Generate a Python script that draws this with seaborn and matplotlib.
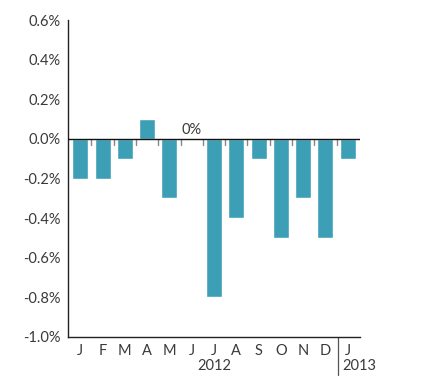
import pandas as pd
import matplotlib.pyplot as plt
import seaborn as sns

# monthly change, Jan 2012 - Jan 2013
months = ['J', 'F', 'M', 'A', 'M', 'J', 'J', 'A', 'S', 'O', 'N', 'D', 'J']
values = [-0.2, -0.2, -0.1, 0.1, -0.3, 0.0, -0.8, -0.4, -0.1, -0.5, -0.3, -0.5, -0.1]
yticks = [0.6, 0.4, 0.2, 0.0, -0.2, -0.4, -0.6, -0.8, -1.0]
years = ['2012', '2013']

BAR = '#3d9fb6'
TXT = '#3a3a3a'
FS = 10.5


def main():
    sns.set_style('white')
    plt.rcParams['font.family'] = ['Lato', 'DejaVu Sans']

    df = pd.DataFrame({'pos': [str(i) for i in range(len(values))], 'value': values})

    fig = plt.figure(figsize=(4.42, 3.85), dpi=100)
    ax = fig.add_axes([0.1538, 0.1247, 0.6606, 0.823])

    sns.barplot(data=df, x='pos', y='value', color=BAR, saturation=1, width=0.72, ax=ax)

    ax.set_xlim(-0.55, len(values) - 0.45)
    ax.set_ylim(-1.0, 0.6)
    ax.set_yticks(yticks)
    ax.set_yticklabels([f'{v:.1f}%' for v in yticks], color=TXT, fontsize=FS)
    ax.set_xticks(range(len(months)))
    ax.set_xticklabels(months, color=TXT, fontsize=FS)
    ax.tick_params(axis='both', length=0, pad=5)
    ax.set_xlabel('')
    ax.set_ylabel('')

    for side in ['top', 'right']:
        ax.spines[side].set_visible(False)
    for side in ['left', 'bottom']:
        ax.spines[side].set_color('#222222')
        ax.spines[side].set_linewidth(1.0)

    # zero line and small ticks between months
    ax.axhline(0, color='#111111', lw=1.0, zorder=3)
    for i in range(len(values) - 1):
        ax.plot([i + 0.5, i + 0.5], [0, -0.03], color='#888888', lw=1.0, zorder=1)

    # zero label for June
    ax.text(5, 0.008, '0%', ha='center', va='bottom', color=TXT, fontsize=FS)

    # year separator and labels
    trans = ax.get_xaxis_transform()
    ax.plot([11.55, 11.55], [0, -0.12], color='#555555', lw=0.9, transform=trans, clip_on=False)
    ax.text(6.0, -0.07, years[0], transform=trans, ha='center', va='top', color=TXT, fontsize=FS)
    ax.text(11.74, -0.07, years[1], transform=trans, ha='left', va='top', color=TXT, fontsize=FS)

    fig.savefig('out.png', dpi=100)


if __name__ == "__main__":
    main()
